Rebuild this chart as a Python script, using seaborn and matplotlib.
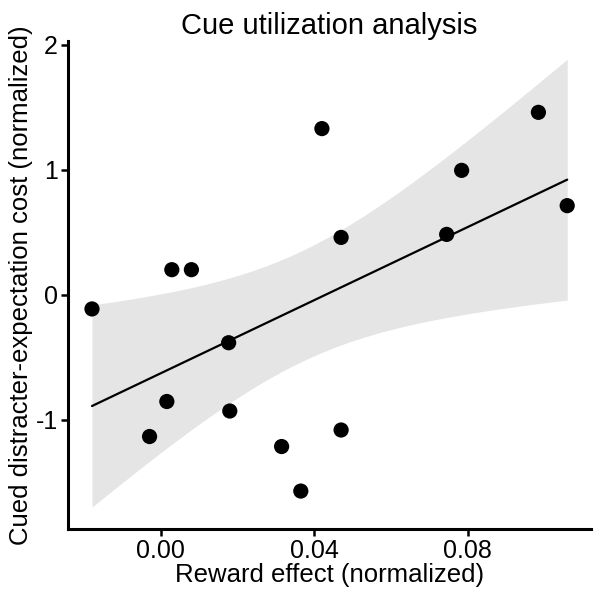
import numpy as np
import pandas as pd
import matplotlib
matplotlib.use("Agg")
import matplotlib.pyplot as plt
import seaborn as sns

reward_effect = [-0.0179, -0.0029, 0.0016, 0.0029, 0.0080, 0.0177, 0.0180, 0.0315,
                 0.0365, 0.0420, 0.0470, 0.0470, 0.0745, 0.0784, 0.0984, 0.1059]
cue_cost = [-0.114, -1.134, -0.854, 0.200, 0.200, -0.384, -0.930, -1.214,
            -1.570, 1.328, 0.458, -1.082, 0.482, 0.994, 1.458, 0.712]
x_ticks = [0.00, 0.04, 0.08]
x_tick_labels = ["0.00", "0.04", "0.08"]
y_ticks = [-1, 0, 1, 2]
y_tick_labels = ["-1", "0", "1", "2"]

df = pd.DataFrame({"x": reward_effect, "y": cue_cost})

sns.set_theme(style="ticks")
plt.rcParams["font.family"] = ["Liberation Sans", "DejaVu Sans"]

fig = plt.figure(figsize=(6, 6), dpi=100)
ax = fig.add_axes([0.113, 0.118, 0.872, 0.814])

# analytic 95% confidence band (like ggplot geom_smooth(method='lm'))
x = df["x"].to_numpy()
y = df["y"].to_numpy()
n = len(x)
b1, b0 = np.polyfit(x, y, 1)
resid = y - (b0 + b1 * x)
s = np.sqrt(np.sum(resid ** 2) / (n - 2))
xg = np.linspace(x.min(), x.max(), 200)
se = s * np.sqrt(1 / n + (xg - x.mean()) ** 2 / np.sum((x - x.mean()) ** 2))
t = 2.1448  # t(0.975, df=14)
yg = b0 + b1 * xg
ax.fill_between(xg, yg - t * se, yg + t * se, color="#e5e5e5", lw=0, zorder=1)

sns.regplot(data=df, x="x", y="y", ax=ax, ci=None, truncate=True,
            scatter_kws=dict(s=120, color="black", edgecolor="none", alpha=1, zorder=3),
            line_kws=dict(color="black", lw=1.6, zorder=2))

ax.set_xlim(-0.0242, 0.1121)
ax.set_ylim(-1.875, 2.03)
ax.set_xticks(x_ticks)
ax.set_xticklabels(x_tick_labels)
ax.set_yticks(y_ticks)
ax.set_yticklabels(y_tick_labels)
ax.tick_params(labelsize=18, width=1.8, length=5, color="black", labelcolor="black", pad=2)
for side in ["top", "right"]:
    ax.spines[side].set_visible(False)
for side in ["left", "bottom"]:
    ax.spines[side].set_linewidth(2.2)
    ax.spines[side].set_color("black")

ax.set_xlabel("Reward effect (normalized)", fontsize=18.5, labelpad=0, color="black")
ax.set_ylabel("Cued distracter-expectation cost (normalized)", fontsize=18.5, labelpad=2, color="black")
ax.set_title("Cue utilization analysis", fontsize=21, pad=5, color="black")

fig.savefig("out.png", dpi=100, facecolor="white")
